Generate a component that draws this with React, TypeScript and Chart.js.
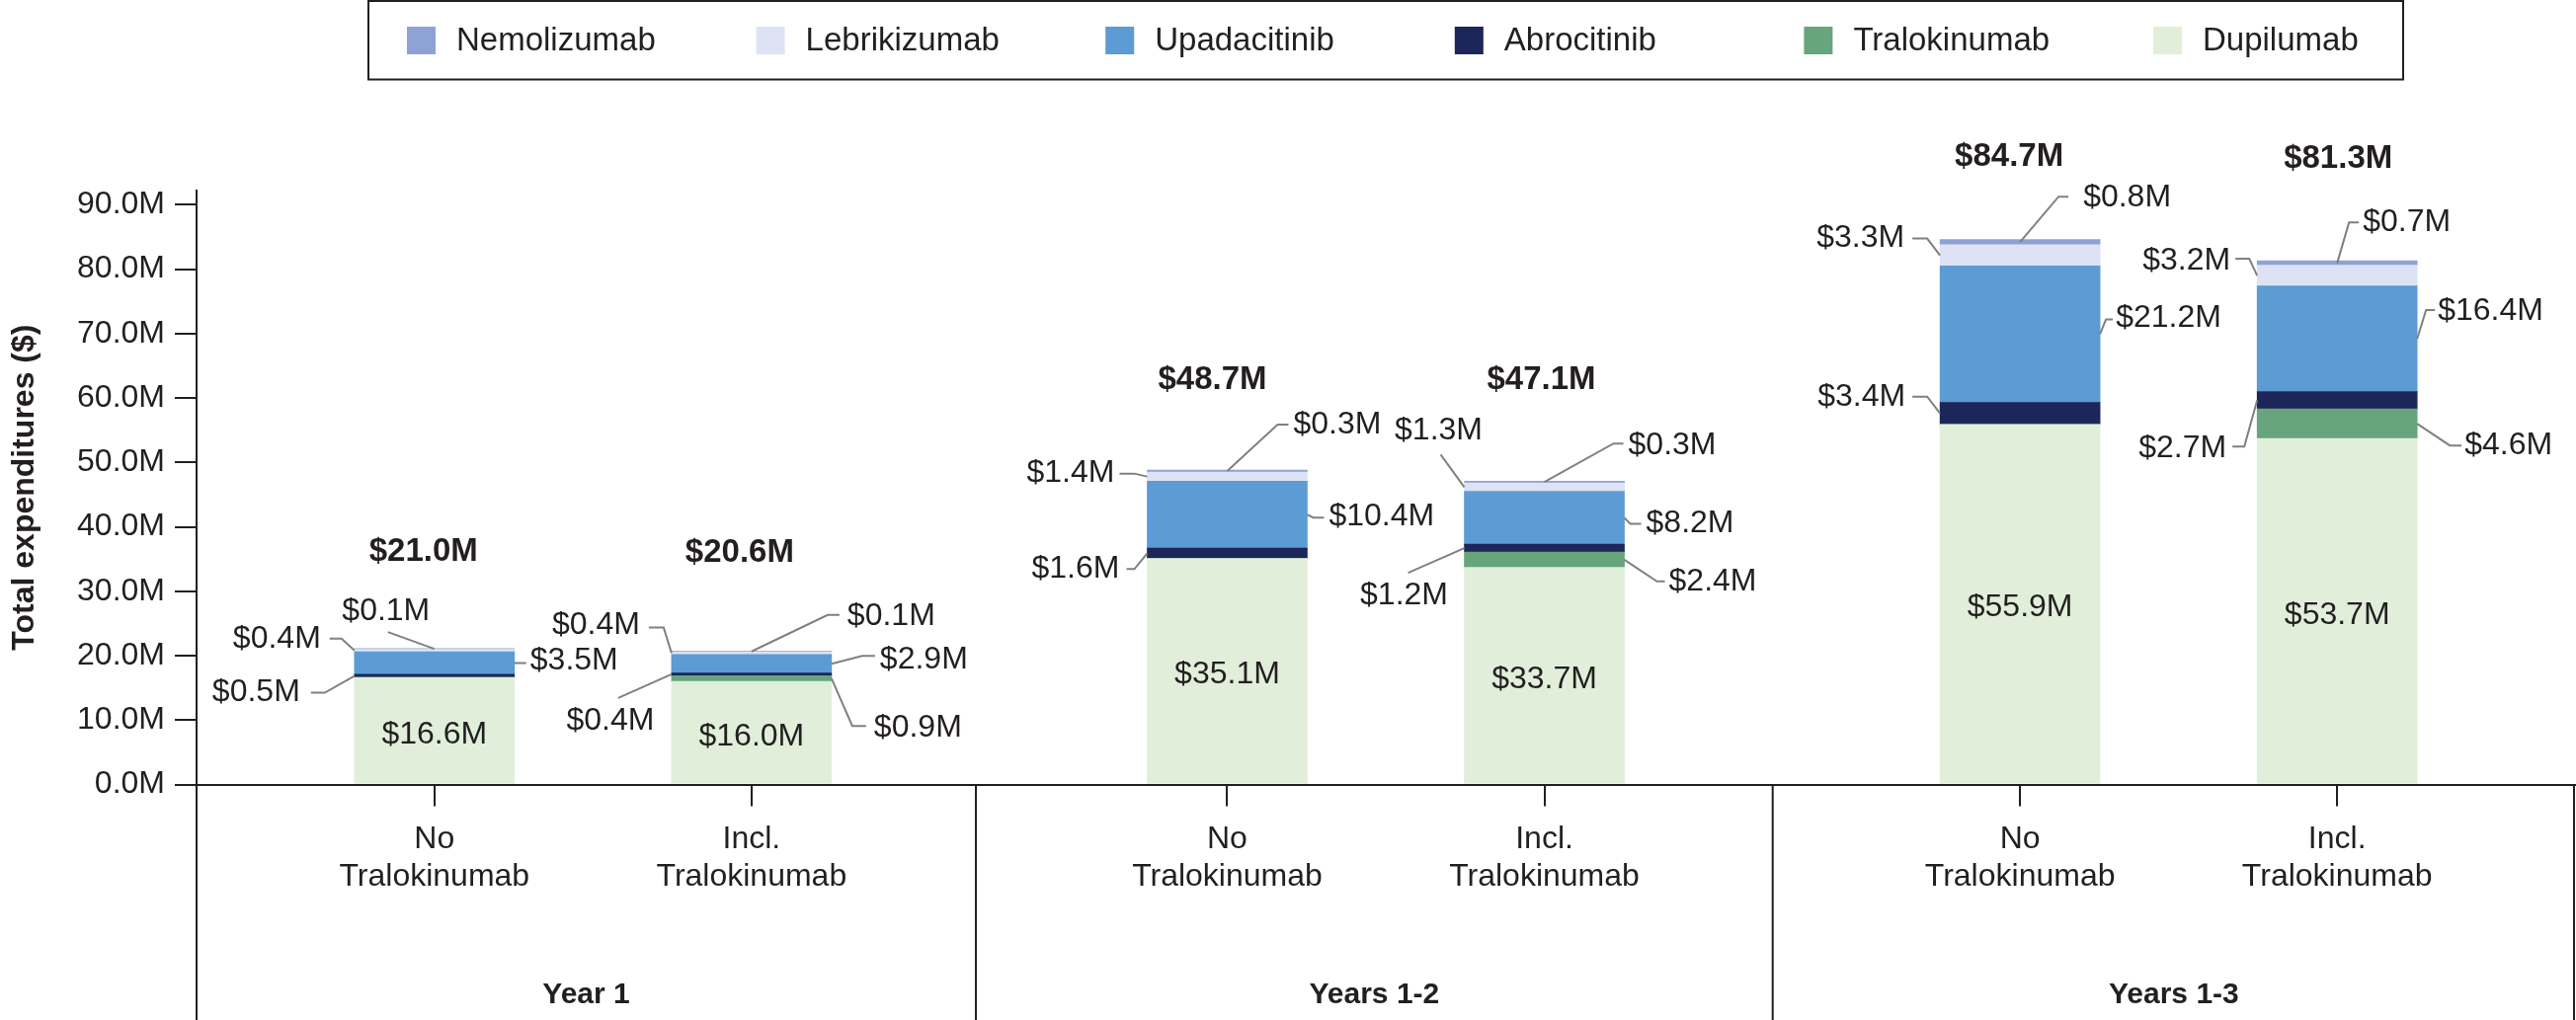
import React, { useEffect, useRef } from 'react';
import { Chart, registerables } from 'chart.js';

Chart.register(...registerables);

// ---------- data ----------
const CATEGORIES: string[][] = [
  ['No', 'Tralokinumab'],
  ['Incl.', 'Tralokinumab'],
  ['No', 'Tralokinumab'],
  ['Incl.', 'Tralokinumab'],
  ['No', 'Tralokinumab'],
  ['Incl.', 'Tralokinumab'],
];
const GROUPS = ['Year 1', 'Years 1-2', 'Years 1-3'];
const SERIES = ['Dupilumab', 'Tralokinumab', 'Abrocitinib', 'Upadacitinib', 'Lebrikizumab', 'Nemolizumab'];
const DUPILUMAB = [16.6, 16.0, 35.1, 33.7, 55.9, 53.7];
const TRALOKINUMAB = [0, 0.9, 0, 2.4, 0, 4.6];
const ABROCITINIB = [0.5, 0.4, 1.6, 1.2, 3.4, 2.7];
const UPADACITINIB = [3.5, 2.9, 10.4, 8.2, 21.2, 16.4];
const LEBRIKIZUMAB = [0.4, 0.4, 1.4, 1.3, 3.3, 3.2];
const NEMOLIZUMAB = [0.1, 0.1, 0.3, 0.3, 0.8, 0.7];
const TOTALS = [21.0, 20.6, 48.7, 47.1, 84.7, 81.3];
const Y_TICKS = [0, 10, 20, 30, 40, 50, 60, 70, 80, 90];

// ---------- layout / style ----------
const SERIES_DATA = [DUPILUMAB, TRALOKINUMAB, ABROCITINIB, UPADACITINIB, LEBRIKIZUMAB, NEMOLIZUMAB];
const COLORS = ['#E1EFDA', '#68A47C', '#1C2659', '#5C9BD4', '#DDE3F4', '#8EA2D6'];
const LEGEND_ORDER = [5, 4, 3, 2, 1, 0];
const SLOTS = [0.3, 0.7, 1.3, 1.7, 2.3, 2.7];
const GROUP_BOUNDS = [0, 0.983, 1.988, 3];
const INK = '#231F20';
const LEADER = '#808080';
const FONT = "'Liberation Sans', Arial, Helvetica, sans-serif";

type Callout = { s: number; at: 'L' | 'R' | 'C'; path: number[][]; text: number[]; align: CanvasTextAlign };
const CALLOUTS: Callout[][] = [
  [
    { s: 2, at: 'L', path: [[-30, 17], [-44, 17]], text: [-55, 17], align: 'right' },
    { s: 4, at: 'L', path: [[-13, -12], [-25, -12]], text: [-34, -12], align: 'right' },
    { s: 5, at: 'C', path: [[-47, -17]], text: [-49, -38], align: 'center' },
    { s: 3, at: 'R', path: [[12, 0]], text: [16, -2], align: 'left' },
  ],
  [
    { s: 4, at: 'L', path: [[-8, -26], [-23, -26]], text: [-32, -28], align: 'right' },
    { s: 5, at: 'C', path: [[77, -37], [89, -37]], text: [97, -36], align: 'left' },
    { s: 3, at: 'R', path: [[31, -8], [44, -8]], text: [49, -4], align: 'left' },
    { s: 2, at: 'L', path: [[-54, 24]], text: [-62, 47], align: 'center' },
    { s: 1, at: 'R', path: [[21, 48], [35, 48]], text: [43, 50], align: 'left' },
  ],
  [
    { s: 4, at: 'L', path: [[-13, -3], [-28, -3]], text: [-33, -3], align: 'right' },
    { s: 5, at: 'C', path: [[51, -47], [62, -47]], text: [67, -47], align: 'left' },
    { s: 3, at: 'R', path: [[6, 3], [17, 3]], text: [22, 2], align: 'left' },
    { s: 2, at: 'L', path: [[-13, 16], [-21, 16]], text: [-28, 16], align: 'right' },
  ],
  [
    { s: 4, at: 'L', path: [[-24, -33]], text: [-26, -57], align: 'center' },
    { s: 5, at: 'C', path: [[70, -39], [80, -39]], text: [85, -37], align: 'left' },
    { s: 3, at: 'R', path: [[6, 6], [17, 6]], text: [22, 6], align: 'left' },
    { s: 2, at: 'L', path: [[-57, 25]], text: [-61, 48], align: 'center' },
    { s: 1, at: 'R', path: [[33, 22], [41, 22]], text: [45, 22], align: 'left' },
  ],
  [
    { s: 4, at: 'L', path: [[-13, -17], [-28, -17]], text: [-36, -17], align: 'right' },
    { s: 5, at: 'C', path: [[39, -46], [49, -46]], text: [64, -45], align: 'left' },
    { s: 3, at: 'R', path: [[6, -15], [13, -15]], text: [16, -16], align: 'left' },
    { s: 2, at: 'L', path: [[-13, -17], [-28, -17]], text: [-35, -17], align: 'right' },
  ],
  [
    { s: 4, at: 'L', path: [[-8, -17], [-22, -17]], text: [-27, -15], align: 'right' },
    { s: 5, at: 'C', path: [[12, -41], [22, -41]], text: [26, -41], align: 'left' },
    { s: 3, at: 'R', path: [[9, -29], [18, -29]], text: [21, -28], align: 'left' },
    { s: 2, at: 'L', path: [[-13, 47], [-25, 47]], text: [-31, 49], align: 'right' },
    { s: 1, at: 'R', path: [[33, 22], [45, 22]], text: [48, 22], align: 'left' },
  ],
];
const TOTAL_OFFSETS = [[-11, -98], [-12, -100], [-15, -91], [-3, -102], [-11, -84], [1, -103]];
const INSIDE_DY = 4;

const money = (v: number) => '$' + v.toFixed(1) + 'M';

const annotPlugin = {
  id: 'annot',
  afterDraw(chart: any) {
    const ctx: CanvasRenderingContext2D = chart.ctx;
    const xs = chart.scales.x;
    const area = chart.chartArea;
    const H = chart.height;
    ctx.save();

    // frame lines below axis
    ctx.strokeStyle = INK;
    ctx.lineWidth = 2;
    ctx.beginPath();
    ctx.moveTo(area.left, area.bottom);
    ctx.lineTo(area.left, H);
    GROUP_BOUNDS.slice(1).forEach((b) => {
      const px = Math.min(xs.getPixelForValue(b), area.right - 1);
      ctx.moveTo(px, area.bottom);
      ctx.lineTo(px, H);
    });
    ctx.stroke();

    // group labels
    ctx.fillStyle = INK;
    ctx.font = `bold 30px ${FONT}`;
    ctx.textAlign = 'center';
    ctx.textBaseline = 'middle';
    GROUPS.forEach((g, k) => {
      const c = (xs.getPixelForValue(GROUP_BOUNDS[k]) + xs.getPixelForValue(GROUP_BOUNDS[k + 1])) / 2;
      ctx.fillText(g, c, 1008);
    });

    // callouts
    const bars = SERIES.map((_, s) => chart.getDatasetMeta(s).data);
    ctx.lineWidth = 2;
    ctx.strokeStyle = LEADER;
    for (let i = 0; i < SLOTS.length; i++) {
      const b0 = bars[0][i];
      ctx.font = `32px ${FONT}`;
      ctx.textAlign = 'center';
      ctx.fillText(money(SERIES_DATA[0][i]), b0.x, (b0.y + b0.base) / 2 + INSIDE_DY);

      CALLOUTS[i].forEach((c) => {
        const b = bars[c.s][i];
        const mid = (b.y + b.base) / 2;
        const ax = c.at === 'L' ? b.x - b.width / 2 : c.at === 'R' ? b.x + b.width / 2 : b.x;
        ctx.beginPath();
        ctx.moveTo(ax, mid);
        c.path.forEach((p) => ctx.lineTo(ax + p[0], mid + p[1]));
        ctx.stroke();
        ctx.textAlign = c.align;
        ctx.fillText(money(SERIES_DATA[c.s][i]), ax + c.text[0], mid + c.text[1]);
      });

      const top = bars[5][i];
      ctx.font = `bold 33px ${FONT}`;
      ctx.textAlign = 'center';
      ctx.fillText(money(TOTALS[i]), top.x + TOTAL_OFFSETS[i][0], top.y + TOTAL_OFFSETS[i][1]);
    }

    // legend
    ctx.strokeStyle = INK;
    ctx.lineWidth = 2;
    ctx.strokeRect(373, 1, 2060, 79.5);
    ctx.font = `33px ${FONT}`;
    ctx.textAlign = 'left';
    LEGEND_ORDER.forEach((s, j) => {
      const sx = 412 + j * 353.6;
      ctx.fillStyle = COLORS[s];
      ctx.fillRect(sx, 27, 29, 28);
      ctx.fillStyle = INK;
      ctx.fillText(SERIES[s], sx + 50, 42);
    });
    ctx.restore();
  },
};

export default function App() {
  const ref = useRef<HTMLCanvasElement | null>(null);
  useEffect(() => {
    document.body.style.margin = '0';
    document.body.style.overflow = 'hidden';
    Chart.defaults.font.family = FONT;
    Chart.defaults.color = INK;
    const chart = new Chart(ref.current as HTMLCanvasElement, {
      type: 'bar',
      data: {
        datasets: SERIES_DATA.map((arr, k) => ({
          label: SERIES[k],
          data: arr.map((v, i) => ({ x: SLOTS[i], y: v })),
          backgroundColor: COLORS[k],
          borderWidth: 0,
          barThickness: 162,
          stack: 'all',
        })),
      } as any,
      options: {
        animation: false,
        responsive: true,
        maintainAspectRatio: false,
        devicePixelRatio: 1,
        layout: { padding: { top: 192.7, left: 0, right: 1, bottom: 0 } },
        plugins: { legend: { display: false }, tooltip: { enabled: false } },
        scales: {
          x: {
            type: 'linear',
            min: 0,
            max: 3,
            offset: false,
            stacked: true,
            afterBuildTicks: (s: any) => {
              s.ticks = SLOTS.map((v) => ({ value: v }));
            },
            afterFit: (s: any) => {
              s.height = 238.5;
            },
            grid: { offset: false, drawOnChartArea: false, drawTicks: true, tickLength: 22, color: INK, lineWidth: 2 },
            border: { display: true, color: INK, width: 2 },
            ticks: {
              autoSkip: false,
              maxRotation: 0,
              minRotation: 0,
              padding: 14,
              color: INK,
              font: { size: 32 },
              callback: (_v: any, i: number) => CATEGORIES[i],
            },
          },
          y: {
            type: 'linear',
            min: 0,
            max: 92.24,
            stacked: true,
            afterBuildTicks: (s: any) => {
              s.ticks = Y_TICKS.map((v) => ({ value: v }));
            },
            afterFit: (s: any) => {
              s.width = 199;
            },
            grid: { drawOnChartArea: false, drawTicks: true, tickLength: 22, color: INK, lineWidth: 2 },
            border: { display: true, color: INK, width: 2 },
            ticks: {
              padding: 10,
              color: INK,
              font: { size: 32 },
              callback: (v: any) => Number(v).toFixed(1) + 'M',
            },
            title: {
              display: true,
              text: 'Total expenditures ($)',
              color: INK,
              font: { size: 32, weight: 'bold' },
              padding: { top: 6, bottom: 0 },
            },
          },
        },
      } as any,
      plugins: [annotPlugin],
    });
    return () => chart.destroy();
  }, []);
  return (
    <div style={{ position: 'relative', width: 2608, height: 1033 }}>
      <canvas ref={ref} />
    </div>
  );
}
